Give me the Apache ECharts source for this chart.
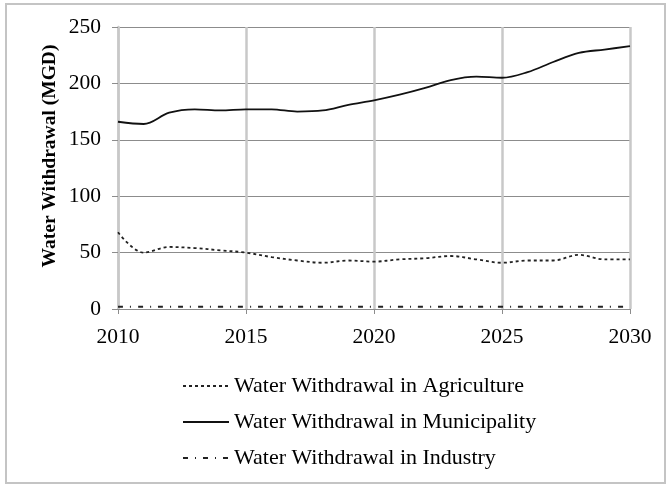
<!DOCTYPE html>
<html>
<head>
<meta charset="utf-8">
<script src="https://cdn.jsdelivr.net/npm/echarts@6/dist/echarts.min.js"></script>
<style>
  html, body { margin: 0; padding: 0; background: #fff; }
  #chart { width: 670px; height: 486px; }
</style>
</head>
<body>
<div id="chart"></div>
<script>
// years on the x axis
const years = [2010, 2011, 2012, 2013, 2014, 2015, 2016, 2017, 2018, 2019, 2020,
               2021, 2022, 2023, 2024, 2025, 2026, 2027, 2028, 2029, 2030];
// (MGD)
const agriculture = [68, 50, 55, 54, 52, 50, 46, 43, 41, 43, 42,
                     44, 45, 47, 44, 41, 43, 43, 48, 44, 44];
const municipality = [166, 164, 174, 177, 176, 177, 177, 175, 176, 181, 185,
                      190, 196, 203, 206, 205, 210, 219, 227, 230, 233];
const industry = [2, 2, 2, 2, 2, 2, 2, 2, 2, 2, 2,
                  2, 2, 2, 2, 2, 2, 2, 2, 2, 2];
const seriesNames = ['Water Withdrawal in Agriculture',
                     'Water Withdrawal in Municipality',
                     'Water Withdrawal in Industry'];
const yTitle = 'Water Withdrawal (MGD)';

const FONT = '"Liberation Serif", "Times New Roman", serif';
const pairs = arr => arr.map((v, i) => [years[i], v]);

var chart = echarts.init(document.getElementById('chart'));
chart.setOption({
  animation: false,
  textStyle: { fontFamily: FONT, color: '#000' },
  graphic: [
    {
      type: 'rect',
      shape: { x: 6, y: 4, width: 659, height: 479 },
      style: { fill: 'none', stroke: '#c4c4c4', lineWidth: 2 },
      silent: true
    },
    {
      // y axis title, a bit above the plot centre like the original
      type: 'text',
      x: 50, y: 156,
      rotation: Math.PI / 2,
      style: {
        text: yTitle,
        font: 'bold 19.5px ' + FONT,
        fill: '#000',
        align: 'center',
        verticalAlign: 'middle'
      },
      silent: true
    }
  ],
  grid: { left: 118, right: 40, top: 27, bottom: 177 },
  xAxis: {
    type: 'value',
    min: 2010, max: 2030, interval: 5,
    axisLine: { show: true, lineStyle: { color: '#8c8c8c', width: 1 } },
    axisTick: { show: true, length: 5, lineStyle: { color: '#8c8c8c' } },
    axisLabel: { fontSize: 21.5, fontFamily: FONT, color: '#000', margin: 17,
                 formatter: v => String(v) },
    splitLine: { show: true, lineStyle: { color: '#c8c8c8', width: 2.5 } }
  },
  yAxis: {
    type: 'value',
    min: 0, max: 250, interval: 50,
    axisLine: { show: true, lineStyle: { color: '#c8c8c8', width: 2.5 } },
    axisTick: { show: true, length: 6, lineStyle: { color: '#8c8c8c' } },
    axisLabel: { fontSize: 21.5, fontFamily: FONT, color: '#000', margin: 17 },
    splitLine: { show: true, lineStyle: { color: '#8c8c8c', width: 1 } }
  },
  legend: {
    orient: 'vertical',
    left: 177, top: 370,
    itemWidth: 46, itemHeight: 14, itemGap: 14,
    itemStyle: { opacity: 0 },
    textStyle: { fontSize: 22, fontFamily: FONT, color: '#000' },
    data: seriesNames
  },
  series: [
    {
      name: seriesNames[0], type: 'line', data: pairs(agriculture),
      smooth: 0.35, symbol: 'none',
      lineStyle: { color: '#222', width: 1.8, type: [3, 3] },
      itemStyle: { color: '#222' }
    },
    {
      name: seriesNames[1], type: 'line', data: pairs(municipality),
      smooth: 0.35, symbol: 'none',
      lineStyle: { color: '#111', width: 1.8, type: 'solid' },
      itemStyle: { color: '#111' }
    },
    {
      name: seriesNames[2], type: 'line', data: pairs(industry),
      smooth: 0.35, symbol: 'none',
      lineStyle: { color: '#222', width: 2.2, type: [5, 7, 1, 7] },
      itemStyle: { color: '#222' }
    }
  ]
});
</script>
</body>
</html>
